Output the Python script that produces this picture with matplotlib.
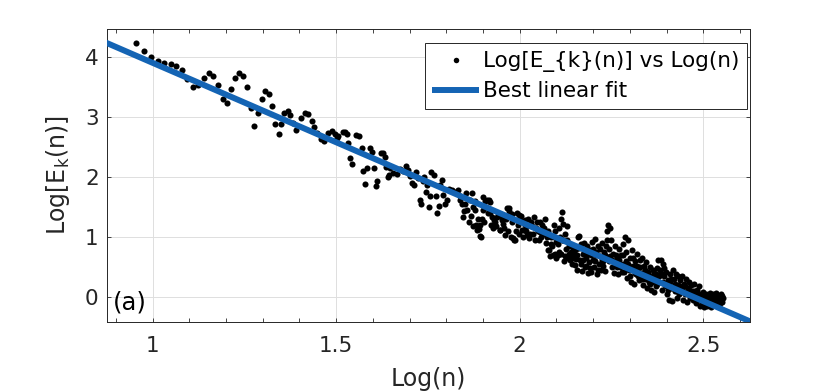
import numpy as np
import matplotlib
matplotlib.use("Agg")
import matplotlib.pyplot as plt
from matplotlib.ticker import MultipleLocator

plt.rcParams['font.family'] = ['DejaVu Sans']
plt.rcParams['mathtext.fontset'] = 'dejavusans'

# points (sparse part, small n)
log_n_low = [0.956, 0.977, 0.997, 1.015, 1.032, 1.049, 1.065, 1.081,
             1.095, 1.111, 1.123, 1.140, 1.154, 1.165, 1.179, 1.191,
             1.203, 1.214, 1.224, 1.236, 1.247, 1.257, 1.267, 1.277,
             1.288, 1.298, 1.307, 1.316, 1.325, 1.334, 1.344, 1.351,
             1.359, 1.368, 1.375, 1.383, 1.391, 1.404, 1.415, 1.424,
             1.434, 1.441, 1.449, 1.458, 1.467, 1.479, 1.488, 1.497]
log_e_low = [4.24, 4.11, 4.00, 3.94, 3.90, 3.89, 3.86, 3.78,
             3.63, 3.50, 3.53, 3.66, 3.73, 3.69, 3.54, 3.30,
             3.24, 3.47, 3.66, 3.74, 3.69, 3.50, 3.15, 2.85,
             3.07, 3.31, 3.43, 3.39, 3.19, 2.89, 2.72, 2.89,
             3.07, 3.11, 3.04, 2.90, 2.78, 2.98, 3.07, 3.05,
             2.93, 2.83, 2.73, 2.64, 2.60, 2.74, 2.77, 2.72]

log_n_mid = [1.502, 1.506, 1.519, 1.524, 1.530, 1.533, 1.538, 1.543,
             1.554, 1.561, 1.570, 1.574, 1.579, 1.584, 1.593, 1.597,
             1.604, 1.608, 1.612, 1.621, 1.628, 1.632, 1.637, 1.640,
             1.644, 1.647, 1.655, 1.666, 1.674, 1.681, 1.690, 1.697,
             1.702, 1.707, 1.711, 1.718, 1.724, 1.728, 1.732, 1.736,
             1.739, 1.745, 1.748, 1.752, 1.755, 1.758, 1.766, 1.771,
             1.774, 1.779, 1.783, 1.787]
log_e_mid = [2.65, 2.68, 2.75, 2.75, 2.72, 2.57, 2.32, 2.22,
             2.70, 2.68, 2.48, 2.11, 1.88, 2.15, 2.48, 2.42,
             2.15, 1.85, 1.93, 2.40, 2.41, 2.34, 2.17, 2.01,
             2.03, 2.15, 2.07, 2.05, 2.13, 2.10, 2.18, 2.12,
             2.02, 1.91, 1.87, 2.08, 1.99, 1.62, 1.55, 1.94,
             2.01, 1.76, 1.87, 1.51, 1.69, 2.09, 2.04, 1.69,
             1.40, 1.52, 1.87, 1.95]

log_n_a = [1.792, 1.797, 1.802, 1.806, 1.811, 1.815, 1.824, 1.833,
           1.838, 1.843, 1.845, 1.847, 1.855, 1.856, 1.861, 1.865,
           1.870, 1.873, 1.874, 1.879, 1.882, 1.883, 1.888, 1.892,
           1.895, 1.896, 1.901, 1.906, 1.911, 1.915, 1.918, 1.920,
           1.925, 1.929, 1.933, 1.939, 1.945, 1.947, 1.952, 1.955,
           1.961, 1.965, 1.970, 1.972, 1.976, 1.980, 1.983, 1.985,
           1.988, 1.993, 1.995, 1.997, 2.002, 2.006, 2.011, 2.015,
           2.019, 2.023, 2.029, 2.033, 2.038, 2.041, 2.047, 2.049,
           2.052, 2.056, 2.061, 2.064, 2.068, 2.074, 2.076, 2.079,
           2.082, 2.086, 2.089, 2.092, 2.096]
log_e_a = [1.70, 1.56, 1.62, 1.80, 1.79, 1.79, 1.76, 1.79,
           1.68, 1.56, 1.33, 1.43, 1.73, 1.46, 1.26, 1.62,
           1.73, 1.51, 1.18, 1.45, 1.20, 1.12, 1.13, 1.02,
           1.01, 1.31, 1.67, 1.60, 1.62, 1.62, 1.59, 1.41,
           1.34, 1.29, 1.26, 1.33, 1.12, 1.12, 1.29, 1.22,
           1.04, 1.48, 1.48, 1.43, 1.01, 1.25, 0.98, 0.95,
           0.95, 1.40, 1.20, 1.37, 1.29, 1.12, 1.12, 1.20,
           1.03, 1.30, 1.06, 1.18, 1.34, 0.95, 1.26, 1.10,
           0.95, 1.26, 1.20, 1.05, 1.30, 1.01, 0.78, 0.79,
           0.68, 1.00, 0.85, 1.20, 0.72]

# extra points hidden between the ones above (1.83 - 2.10)
log_n_c = [1.836, 1.851, 1.868, 1.877, 1.886, 1.893, 1.899, 1.904,
           1.909, 1.913, 1.922, 1.927, 1.936, 1.942, 1.950, 1.958,
           1.963, 1.968, 1.978, 1.990, 1.999, 2.004, 2.009, 2.013,
           2.017, 2.021, 2.026, 2.031, 2.036, 2.044, 2.054, 2.059,
           2.066, 2.071, 2.078, 2.084, 2.091, 2.094]
log_e_c = [1.62, 1.55, 1.35, 1.60, 1.30, 1.20, 1.45, 1.25,
           1.50, 1.40, 1.20, 1.15, 1.18, 1.40, 1.35, 1.15,
           1.30, 1.10, 1.38, 1.10, 1.05, 1.35, 1.00, 1.28,
           1.10, 1.18, 0.98, 1.25, 1.05, 1.15, 1.08, 1.00,
           1.15, 0.90, 1.10, 0.88, 0.70, 1.00]

# dense part, large n
log_n_b = [2.097, 2.100, 2.103, 2.106, 2.108, 2.111, 2.114, 2.116,
           2.118, 2.120, 2.123, 2.126, 2.128, 2.131, 2.134, 2.136,
           2.139, 2.142, 2.145, 2.147, 2.150, 2.153, 2.156, 2.158,
           2.161, 2.164, 2.166, 2.169, 2.172, 2.175, 2.177, 2.180,
           2.183, 2.186, 2.188, 2.191, 2.194, 2.196, 2.199, 2.202,
           2.205, 2.207, 2.210, 2.213, 2.215, 2.218, 2.221, 2.224,
           2.226, 2.229, 2.232, 2.235, 2.237, 2.240, 2.243, 2.245,
           2.248, 2.251, 2.254, 2.256, 2.259, 2.262, 2.265, 2.267,
           2.270, 2.273, 2.275, 2.278, 2.281, 2.284, 2.286, 2.289,
           2.292, 2.294, 2.297, 2.300, 2.303, 2.306, 2.308, 2.311,
           2.314, 2.316, 2.319, 2.322, 2.324, 2.327, 2.330, 2.333,
           2.335, 2.338, 2.341, 2.344, 2.346, 2.349, 2.352, 2.354,
           2.357, 2.360, 2.363, 2.365, 2.368, 2.371, 2.373, 2.376,
           2.379, 2.381, 2.384, 2.387, 2.389, 2.392, 2.395, 2.398,
           2.400, 2.403, 2.406, 2.408, 2.411, 2.414, 2.417, 2.419,
           2.422, 2.425, 2.427, 2.430, 2.433, 2.436, 2.439, 2.441,
           2.444, 2.447, 2.449, 2.452, 2.455, 2.457, 2.460, 2.463,
           2.466, 2.469, 2.471, 2.474, 2.477, 2.479, 2.482, 2.485,
           2.488, 2.490, 2.493, 2.496, 2.499, 2.501, 2.504, 2.507,
           2.509, 2.512, 2.515, 2.518, 2.520, 2.523, 2.526, 2.528,
           2.531, 2.534, 2.537, 2.539, 2.542, 2.545, 2.547, 2.550,
           2.553]
log_e_b = [1.10, 0.65, 0.88, 1.15, 0.75, 1.30, 0.95, 1.42,
           1.22, 0.60, 1.05, 0.80, 1.18, 0.66, 0.85, 0.62,
           0.75, 0.56, 0.82, 0.66, 0.54, 0.80, 0.45, 1.00,
           1.02, 0.62, 0.88, 0.43, 0.72, 0.90, 0.50, 0.66,
           0.85, 0.40, 0.58, 0.78, 0.42, 0.92, 0.62, 0.50,
           0.97, 0.75, 0.38, 0.85, 0.55, 0.68, 0.45, 0.90,
           0.60, 0.75, 0.43, 0.85, 1.10, 1.20, 0.60, 1.15,
           0.95, 0.50, 0.72, 0.40, 0.85, 0.55, 0.65, 0.38,
           0.80, 0.50, 0.70, 0.42, 0.88, 0.55, 1.00, 0.75,
           0.32, 0.95, 0.45, 0.65, 0.25, 0.78, 0.52, 0.22,
           0.60, 0.38, 0.72, 0.48, 0.28, 0.62, 0.40, 0.65,
           0.20, 0.52, 0.30, 0.58, 0.16, 0.42, 0.25, 0.50,
           0.12, 0.35, 0.45, 0.08, 0.30, 0.18, 0.48, 0.62,
           0.25, 0.45, 0.62, 0.12, 0.55, 0.35, 0.20, 0.42,
           0.05, 0.28, -0.05, 0.38, 0.15, -0.07, 0.46, 0.30,
           0.10, 0.38, -0.02, 0.20, 0.05, 0.28, 0.10, 0.36,
           -0.05, 0.22, 0.05, 0.30, -0.08, 0.15, 0.25, 0.02,
           0.20, 0.10, -0.05, 0.22, 0.02, -0.10, 0.12, -0.02,
           0.18, -0.14, 0.05, -0.10, 0.08, -0.16, -0.02, 0.06,
           -0.14, 0.02, -0.08, 0.07, -0.17, -0.04, 0.05, -0.12,
           -0.02, 0.07, -0.10, 0.02, -0.14, -0.04, 0.05, -0.08,
           -0.02]

# more hidden points inside the dense band (2.10 - 2.55)
log_n_d = [2.099, 2.104, 2.109, 2.113, 2.119, 2.124, 2.129, 2.133,
           2.138, 2.143, 2.148, 2.152, 2.157, 2.162, 2.167, 2.171,
           2.176, 2.181, 2.185, 2.190, 2.195, 2.200, 2.204, 2.209,
           2.214, 2.219, 2.223, 2.228, 2.233, 2.238, 2.242, 2.247,
           2.252, 2.257, 2.261, 2.266, 2.271, 2.276, 2.280, 2.285,
           2.290, 2.295, 2.299, 2.304, 2.309, 2.313, 2.318, 2.323,
           2.328, 2.332, 2.337, 2.342, 2.347, 2.351, 2.356, 2.361,
           2.366, 2.370, 2.375, 2.380, 2.385, 2.390, 2.394, 2.399,
           2.404, 2.409, 2.413, 2.418, 2.423, 2.428, 2.432, 2.437,
           2.442, 2.447, 2.451, 2.456, 2.461, 2.465, 2.470, 2.475,
           2.480, 2.484, 2.489, 2.494, 2.498, 2.503, 2.508, 2.513,
           2.517, 2.522, 2.527, 2.532, 2.536, 2.541, 2.546, 2.551]
log_e_d = [0.92, 0.70, 1.00, 0.72, 0.95, 0.68, 0.95, 0.72,
           0.64, 0.72, 0.76, 0.64, 0.70, 0.82, 0.55, 0.62,
           0.78, 0.52, 0.72, 0.48, 0.70, 0.80, 0.60, 0.70,
           0.45, 0.80, 0.62, 0.52, 0.70, 0.95, 0.80, 0.68,
           0.62, 0.58, 0.70, 0.50, 0.62, 0.56, 0.70, 0.42,
           0.60, 0.55, 0.35, 0.50, 0.65, 0.40, 0.52, 0.35,
           0.50, 0.30, 0.40, 0.45, 0.30, 0.35, 0.22, 0.25,
           0.40, 0.38, 0.22, 0.35, 0.40, 0.25, 0.48, 0.18,
           0.12, 0.25, 0.30, 0.15, 0.22, 0.10, 0.35, 0.18,
           0.15, 0.08, 0.18, 0.08, 0.12, -0.02, 0.05, 0.10,
           0.05, 0.08, 0.02, -0.05, -0.06, 0.02, -0.08, -0.05,
           -0.12, 0.00, -0.06, -0.08, 0.00, -0.06, -0.10, 0.02]

# best linear fit
fit_slope = -2.649
fit_intercept = 6.556

log_n = np.concatenate([log_n_low, log_n_mid, log_n_a, log_n_c, log_n_b, log_n_d])
log_e = np.concatenate([log_e_low, log_e_mid, log_e_a, log_e_c, log_e_b, log_e_d])

dark = '#262626'
blue = '#1464b4'

fig = plt.figure(figsize=(8.3, 3.92), dpi=100)
ax = fig.add_axes([0.1289, 0.1786, 0.7747, 0.7474])

ax.plot(log_n, log_e, 'o', color='k', ms=4.4, mew=0,
        label='Log[E_{k}(n)] vs Log(n)', zorder=3)
xf = np.array([0.80, 2.70])
ax.plot(xf, fit_intercept + fit_slope * xf, color=blue, lw=4.3,
        label='Best linear fit', zorder=4, solid_capstyle='butt')

ax.set_xlim(0.876, 2.627)
ax.set_ylim(-0.413, 4.47)
ax.set_xticks([1, 1.5, 2, 2.5])
ax.set_xticklabels(['1', '1.5', '2', '2.5'])
ax.set_yticks([0, 1, 2, 3, 4])
ax.xaxis.set_minor_locator(MultipleLocator(0.1))

ax.grid(True, which='major', color='#dedede', lw=0.7)
ax.set_axisbelow(True)
for s in ax.spines.values():
    s.set_color(dark)
    s.set_linewidth(0.7)

ax.tick_params(which='both', direction='in', top=True, right=True,
               color=dark, width=0.6, length=3)
ax.tick_params(axis='both', labelsize=15.5, labelcolor=dark)
ax.tick_params(axis='x', pad=10)
ax.tick_params(axis='y', pad=6)

ax.set_xlabel('Log(n)', fontsize=17, color=dark, labelpad=8)
ax.set_ylabel('Log[E$_{\\mathrm{k}}$(n)]', fontsize=17, color=dark, labelpad=9)

ax.text(0.009, 0.025, '(a)', transform=ax.transAxes, fontsize=17.5,
        color='k', ha='left', va='bottom')

leg = ax.legend(loc='upper right', bbox_to_anchor=(0.9953, 0.952),
                fontsize=15.5, frameon=True, fancybox=False, framealpha=1,
                edgecolor=dark, borderaxespad=0, handlelength=2.14,
                handletextpad=0.19, borderpad=0.37, labelspacing=0.42,
                markerscale=0.9)
leg.get_frame().set_linewidth(0.7)

fig.savefig('out.png', dpi=100)
